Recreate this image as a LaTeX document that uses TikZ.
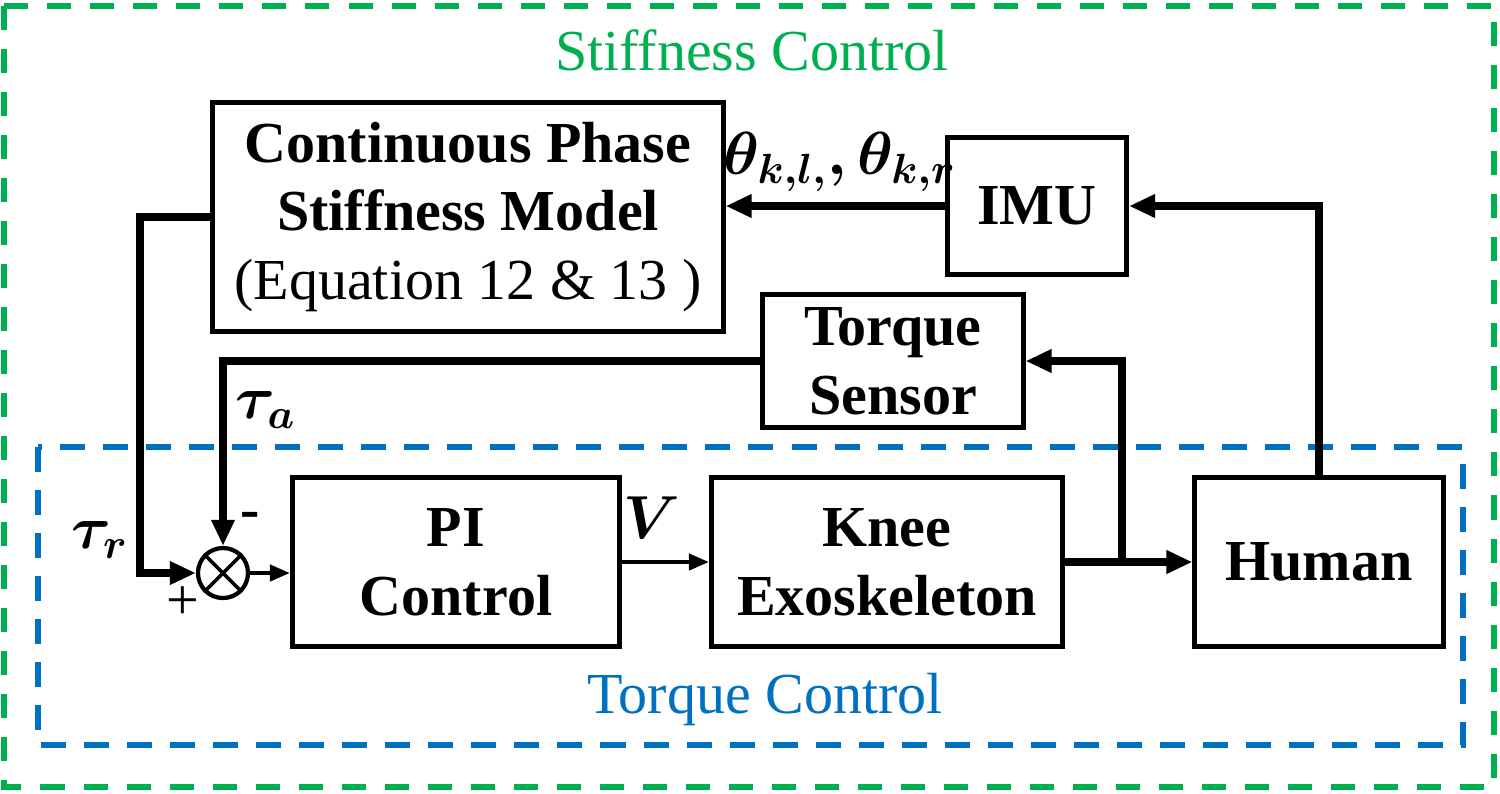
\documentclass[tikz,border=0pt]{standalone}
\usepackage{fontspec}
\setmainfont{Liberation Serif}
\usepackage{amsmath,bm}
\usetikzlibrary{arrows.meta}
\usetikzlibrary{positioning}
\definecolor{stiffgreen}{RGB}{0,176,80}
\definecolor{torqueblue}{RGB}{0,112,192}
\tikzstyle{block} = [rectangle, draw=black, line width=1.4pt, align=center, font=\fontsize{16.5}{19.5}\selectfont\bfseries]
\tikzstyle{conn} = [line width=2.3pt, -{Triangle[length=0.26cm,width=0.22cm]}]
\tikzstyle{thinconn} = [line width=1.2pt, -{Triangle[length=0.2cm,width=0.16cm]}]
\tikzstyle{lbl} = [font=\fontsize{16.5}{20}\selectfont]

\begin{document}
\begin{tikzpicture}[x=0.01cm, y=-0.01cm]
\useasboundingbox (0,0) rectangle (1500,793);

 % outer and inner loops
 \draw[stiffgreen, line width=1.7pt, dash pattern=on 0.24cm off 0.19cm] (4,6) rectangle (1494,787);
 \draw[torqueblue, line width=1.7pt, dash pattern=on 0.25cm off 0.18cm] (38,447) rectangle (1463,745);
 \node (stiff) at (752,50) [text=stiffgreen, font=\fontsize{16.5}{19.5}\selectfont] {Stiffness Control};
 \node (torq) at (765,700) [text=torqueblue, font=\fontsize{16.5}{19.5}\selectfont] {Torque Control};

 \node (cpm) at (468,217) [block, minimum width=5.1cm, minimum height=2.28cm] {Continuous Phase\\Stiffness Model\\\mdseries(Equation 12 \& 13 )};
 \node (imu) at (1037,206) [block, minimum width=1.79cm, minimum height=1.37cm] {IMU};
 \node (ts) at (893,361) [block, minimum width=2.6cm, minimum height=1.33cm] {Torque\\Sensor};
 \node (pi) at (456,562) [block, minimum width=3.27cm, minimum height=1.69cm] {PI\\Control};
 \node (knee) at (887,562) [block, minimum width=3.51cm, minimum height=1.69cm] {Knee\\Exoskeleton};
 \node (human) at (1319,562) [block, minimum width=2.48cm, minimum height=1.69cm] {Human};
 \node (sum) at (223,573) [circle, draw, line width=1.2pt, minimum size=0.5cm, inner sep=0pt] {};
 \draw[line width=1pt] (sum.north west) -- (sum.south east);
 \draw[line width=1pt] (sum.north east) -- (sum.south west);

 \coordinate (rbend) at (140,573);
 \coordinate (split) at (1122,564);

 \draw[conn] (imu.west) -- (imu.west -| cpm.east);
 \draw[conn] (cpm.west) -| (rbend) -- (sum.west);
 \draw[conn] (ts.west) -| (sum.north);
 \draw[thinconn] (sum.east) -- (sum.east -| pi.west);
 \draw[thinconn] (pi.east) -- (knee.west);
 \draw[conn] (knee.east) -- (human.west);
 \draw[conn] (split) |- (ts.east);
 \draw[conn] (human.north) |- (imu.east);

 \node (thlbl) at (840,162) [lbl] {$\bm{\theta_{k,l,},\theta_{k,r}}$};
 \node (talbl) at (266,410) [lbl] {$\bm{\tau_a}$};
 \node (trlbl) at (100,540) [lbl] {$\bm{\tau_r}$};
 \node (vlbl) at (652,518) [lbl] {$\bm{V}$};
 \node (plus) at (183,603) [lbl] {+};
 \node (minus) at (250,520) [lbl] {\textbf{-}};
\end{tikzpicture}
\end{document}
